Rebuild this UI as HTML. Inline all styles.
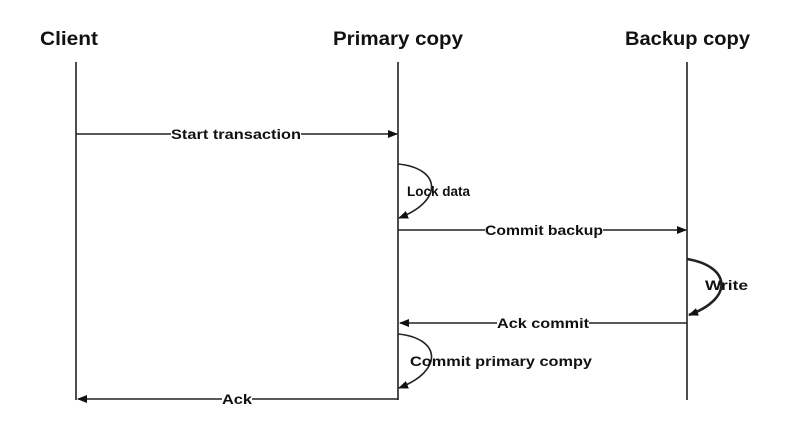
<!DOCTYPE html>
<html><head><meta charset="utf-8"><style>
html,body{margin:0;padding:0;background:#fff;}
svg{display:block;font-family:"Liberation Sans",sans-serif;}
</style></head><body>
<svg width="800" height="434" viewBox="0 0 800 434" xmlns="http://www.w3.org/2000/svg">
<defs>
<marker id="a" markerWidth="10" markerHeight="8" refX="9" refY="4" orient="auto" markerUnits="userSpaceOnUse"><path d="M0,0 L10,4 L0,8 z" fill="#111"/></marker>
</defs>
<g font-weight="bold" font-size="19" fill="#111">
<text x="40" y="45" textLength="58" lengthAdjust="spacingAndGlyphs">Client</text>
<text x="333" y="45" textLength="130" lengthAdjust="spacingAndGlyphs">Primary copy</text>
<text x="625" y="45" textLength="125" lengthAdjust="spacingAndGlyphs">Backup copy</text>
</g>
<g stroke="#222" stroke-width="1.6" fill="none">
<line x1="76" y1="62" x2="76" y2="400"/>
<line x1="398" y1="62" x2="398" y2="400"/>
<line x1="687" y1="62" x2="687" y2="400"/>
<line x1="76" y1="134" x2="397" y2="134" marker-end="url(#a)"/>
<line x1="398" y1="230" x2="686" y2="230" marker-end="url(#a)"/>
<line x1="687" y1="323" x2="400" y2="323" marker-end="url(#a)"/>
<line x1="398" y1="399" x2="78" y2="399" marker-end="url(#a)"/>
<path d="M398,164 C440,168 445,200 399,218" marker-end="url(#a)"/>
<path d="M398,334 C440,338 445,370 399,388" marker-end="url(#a)"/>
<path d="M687,259 C730,266 735,298 689,315" stroke-width="2.6" marker-end="url(#a)"/>
</g>
<g font-size="14" fill="#111" font-weight="bold">
<rect x="171" y="126" width="130" height="16" fill="#fff"/>
<text x="171" y="139" textLength="130" lengthAdjust="spacingAndGlyphs">Start transaction</text>
<text x="407" y="196" textLength="63" lengthAdjust="spacingAndGlyphs">Lock data</text>
<rect x="485" y="222" width="118" height="16" fill="#fff"/>
<text x="485" y="235" textLength="118" lengthAdjust="spacingAndGlyphs">Commit backup</text>
<text x="705" y="290" textLength="43" lengthAdjust="spacingAndGlyphs">Write</text>
<rect x="497" y="315" width="92" height="16" fill="#fff"/>
<text x="497" y="328" textLength="92" lengthAdjust="spacingAndGlyphs">Ack commit</text>
<text x="410" y="366" textLength="182" lengthAdjust="spacingAndGlyphs">Commit primary compy</text>
<rect x="222" y="391" width="30" height="16" fill="#fff"/>
<text x="222" y="404" textLength="30" lengthAdjust="spacingAndGlyphs">Ack</text>
</g>
</svg>
</body></html>
